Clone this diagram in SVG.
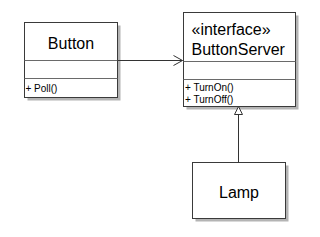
<svg xmlns="http://www.w3.org/2000/svg" width="320" height="237" viewBox="0 0 320 237">
<style>
.shadow{fill:#b4b4b4;stroke:none}
.box{fill:#fff;stroke:#3a3a3a;stroke-width:1}
.div{stroke:#6a6a6a;stroke-width:1}
.name{font-family:"Liberation Sans",Arial,sans-serif;font-size:16px;fill:#000}
.op{font-family:"Liberation Sans",Arial,sans-serif;font-size:10px;fill:#000}
.conn{stroke:#333;stroke-width:1;fill:none}
</style>
<rect width="320" height="237" fill="#fff"/>
<g id="Button">
<rect class="shadow" x="27.5" y="25.5" width="93" height="75"/>
<rect class="box" x="24.5" y="22.5" width="93" height="75"/>
<line class="div" x1="24.5" y1="60.5" x2="117.5" y2="60.5"/>
<line class="div" x1="24.5" y1="78.5" x2="117.5" y2="78.5"/>
<text class="name" x="71" y="48.5" text-anchor="middle">Button</text>
<text class="op" x="25.5" y="91.5">+ Poll()</text>
</g>
<g id="ButtonServer">
<rect class="shadow" x="186.5" y="15.5" width="112" height="94"/>
<rect class="box" x="183.5" y="12.5" width="112" height="94"/>
<line class="div" x1="183.5" y1="61.5" x2="295.5" y2="61.5"/>
<line class="div" x1="183.5" y1="79.5" x2="295.5" y2="79.5"/>
<text class="name" x="191.5" y="35">«interface»</text>
<text class="name" x="191.5" y="55">ButtonServer</text>
<text class="op" x="185" y="90.5">+ TurnOn()</text>
<text class="op" x="185" y="102.5">+ TurnOff()</text>
</g>
<g id="Lamp">
<rect class="shadow" x="195.5" y="165.5" width="93" height="56"/>
<rect class="box" x="192.5" y="162.5" width="93" height="56"/>
<text class="name" x="239" y="198" text-anchor="middle">Lamp</text>
</g>
<g id="connectors">
<line class="conn" x1="117.5" y1="60.5" x2="182.5" y2="60.5"/>
<polyline class="conn" points="173.5,55.5 182.5,60.5 173.5,65.5"/>
<line class="conn" x1="238.5" y1="114.5" x2="238.5" y2="162.5"/>
<polygon points="238.5,106.5 234.5,114.5 242.5,114.5" fill="#fff" stroke="#333" stroke-width="1"/>
</g>
</svg>
